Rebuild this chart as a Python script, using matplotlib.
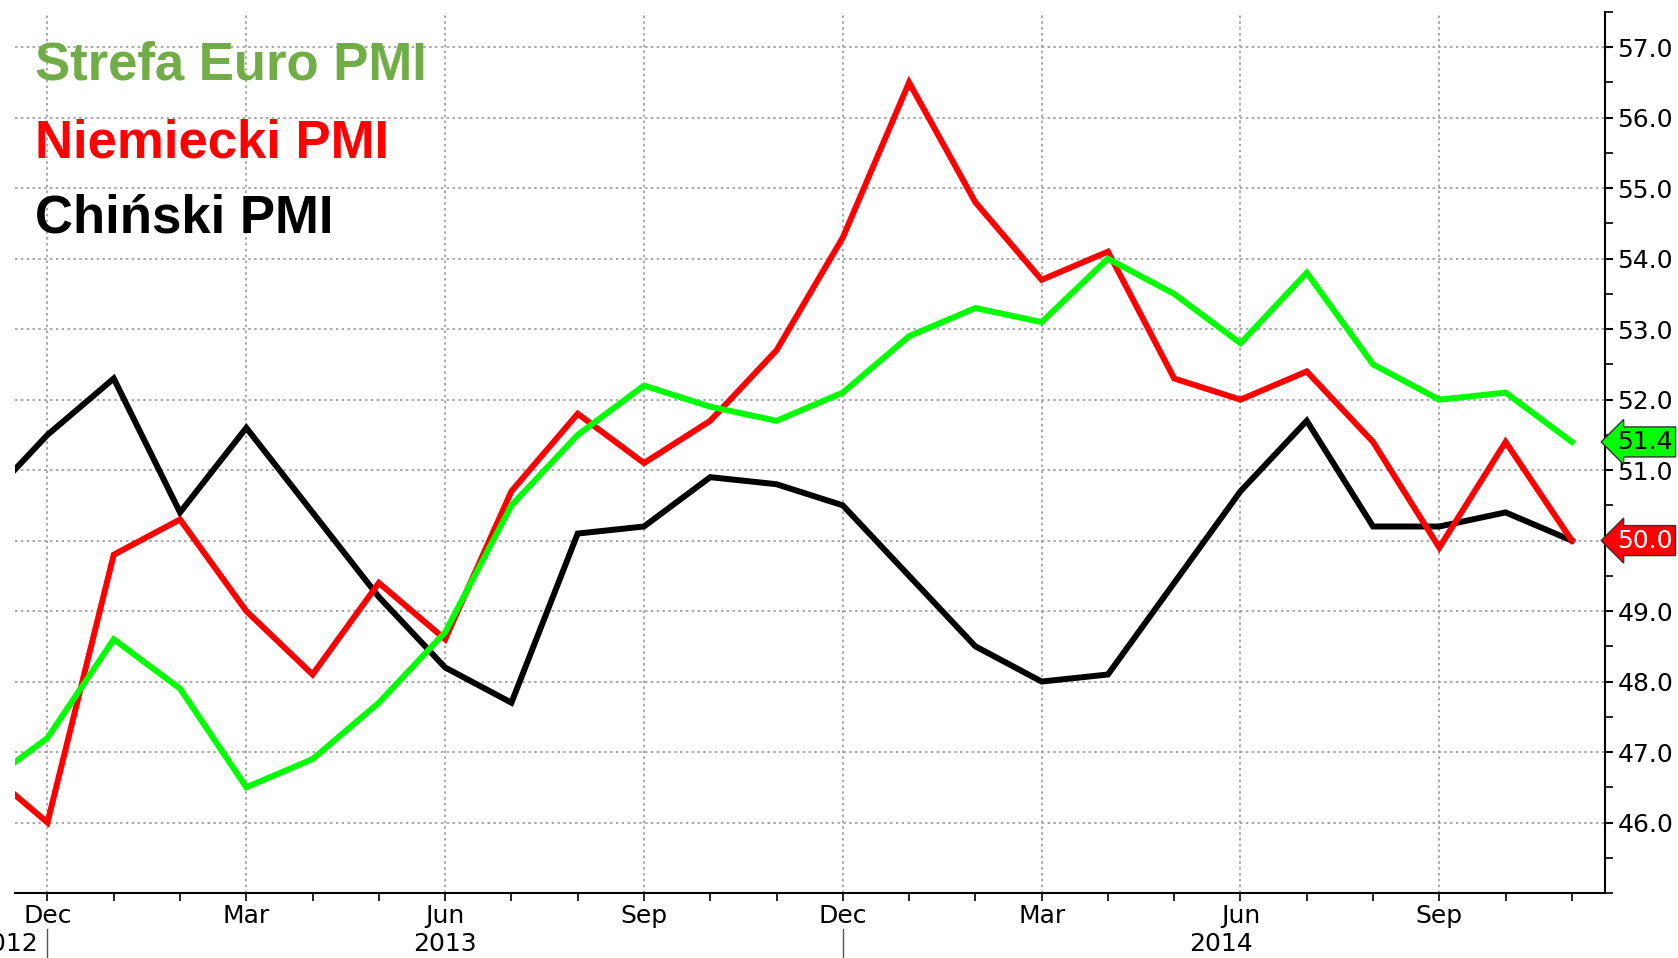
import numpy as np
import matplotlib
matplotlib.use("Agg")
import matplotlib.pyplot as plt
import matplotlib.transforms as mtransforms
from matplotlib.ticker import MultipleLocator, FixedLocator

# monthly readings, Nov 2012 .. Nov 2014
months = ['Nov', 'Dec', 'Jan', 'Feb', 'Mar', 'Apr', 'May', 'Jun', 'Jul', 'Aug', 'Sep', 'Oct',
          'Nov', 'Dec', 'Jan', 'Feb', 'Mar', 'Apr', 'May', 'Jun', 'Jul', 'Aug', 'Sep', 'Oct', 'Nov']
euro_pmi = [46.5, 47.2, 48.6, 47.9, 46.5, 46.9, 47.7, 48.7, 50.5, 51.5, 52.2, 51.9,
            51.7, 52.1, 52.9, 53.3, 53.1, 54.0, 53.5, 52.8, 53.8, 52.5, 52.0, 52.1, 51.4]
german_pmi = [46.8, 46.0, 49.8, 50.3, 49.0, 48.1, 49.4, 48.6, 50.7, 51.8, 51.1, 51.7,
              52.7, 54.3, 56.5, 54.8, 53.7, 54.1, 52.3, 52.0, 52.4, 51.4, 49.9, 51.4, 50.0]
china_pmi = [50.5, 51.5, 52.3, 50.4, 51.6, 50.4, 49.2, 48.2, 47.7, 50.1, 50.2, 50.9,
             50.8, 50.5, 49.5, 48.5, 48.0, 48.1, 49.4, 50.7, 51.7, 50.2, 50.2, 50.4, 50.0]
years = ['2012', '2013', '2014']

W, H = 1678, 958
fig = plt.figure(figsize=(W / 100, H / 100), dpi=100)
ax = fig.add_axes([15 / W, 65 / H, 1590 / W, 881 / H])

x = np.arange(len(months)) - 1  # Dec 2012 = 0

ax.plot(x, china_pmi, color='black', lw=4.3, solid_joinstyle='miter', zorder=3)
ax.plot(x, german_pmi, color='#ff0000', lw=4.3, solid_joinstyle='miter', zorder=4)
ax.plot(x, euro_pmi, color='#00ff00', lw=4.3, solid_joinstyle='miter', zorder=5)

ax.set_xlim(-0.49, 23.5)
ax.set_ylim(45.0, 57.5)

for s in ['left', 'top']:
    ax.spines[s].set_visible(False)
ax.spines['right'].set_linewidth(1.5)
ax.spines['bottom'].set_linewidth(1.5)

fs = 18

# y axis on the right
ax.yaxis.tick_right()
ax.yaxis.set_major_locator(FixedLocator(np.arange(46, 58)))
ax.yaxis.set_minor_locator(MultipleLocator(0.5))
ax.yaxis.set_major_formatter(matplotlib.ticker.FormatStrFormatter('%.1f'))
ax.tick_params(axis='y', which='major', length=6, width=1.5, pad=3, labelsize=fs, direction='out')
ax.tick_params(axis='y', which='minor', length=6, width=1.2, direction='out')

# x axis: quarterly labels, monthly ticks
major = [i for i in x if i % 3 == 0]
ax.xaxis.set_major_locator(FixedLocator(major))
ax.set_xticklabels([months[i + 1] for i in major])
ax.xaxis.set_minor_locator(MultipleLocator(1))
ax.tick_params(axis='x', which='both', length=6, width=1.2, pad=2, labelsize=fs, direction='out')

ax.grid(True, which='major', color='#999999', lw=1.2, linestyle=(0, (1.5, 2)))

# year row
blend = mtransforms.blended_transform_factory(ax.transData, fig.transFigure)
for xs in [0, 12]:
    ax.plot([xs, xs], [0, 29 / H], color='#555555', lw=1, transform=blend, clip_on=False)
fig.text(38 / W, 14 / H, years[0], fontsize=fs, ha='right', va='center')
ax.text(6.0, 14 / H, years[1], fontsize=fs, ha='center', va='center', transform=blend)
ax.text(17.7, 14 / H, years[2], fontsize=fs, ha='center', va='center', transform=blend)

# last value tags
ax.annotate(f'{euro_pmi[-1]:.1f}', xy=(1.0, euro_pmi[-1]), xycoords=('axes fraction', 'data'),
            xytext=(12, 0), textcoords='offset pixels', ha='left', va='center',
            fontsize=18, color='black', annotation_clip=False, zorder=10,
            bbox=dict(boxstyle='larrow,pad=0.12', fc='#00ff00', ec='#333333', lw=1))
ax.annotate(f'{german_pmi[-1]:.1f}', xy=(1.0, german_pmi[-1]), xycoords=('axes fraction', 'data'),
            xytext=(12, 0), textcoords='offset pixels', ha='left', va='center',
            fontsize=18, color='white', annotation_clip=False, zorder=10,
            bbox=dict(boxstyle='larrow,pad=0.12', fc='#ff0000', ec='#333333', lw=1))

# legend text
fig.text(35 / W, 1 - 80 / H, 'Strefa Euro PMI', color='#70ad47', fontsize=38,
         fontweight='bold', family='Liberation Sans', va='baseline')
fig.text(35 / W, 1 - 157 / H, 'Niemiecki PMI', color='#ff0000', fontsize=38,
         fontweight='bold', family='Liberation Sans', va='baseline')
fig.text(35 / W, 1 - 232 / H, 'Chiński PMI', color='black', fontsize=38,
         fontweight='bold', family='Liberation Sans', va='baseline')

fig.savefig('out.png', dpi=100)
